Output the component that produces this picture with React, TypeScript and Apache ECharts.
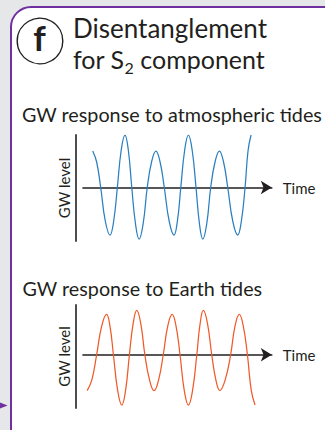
import React, { useEffect, useRef } from "react";
import * as echarts from "echarts";

// Upper panel: GW response to atmospheric tides (time in h, level in arbitrary units)
const atmTime = [
  3.7, 5.2, 6.75, 8.5, 10.3, 11.7, 13.1, 14.55, 16.0, 17.3, 18.6, 20.0, 21.4, 22.95, 24.5, 26.15, 27.8, 29.4, 31.0,
  32.85, 34.7, 36.0, 37.3, 38.75, 40.2, 41.65, 43.1, 44.4, 45.7, 47.2, 48.7, 50.35, 52.0, 53.6, 55.2, 57.1, 59.0,
  60.4, 61.8, 62.95, 64.1,
];
const atmLevel = [
  0.73, 0.51, 0, -0.67, -0.95, -0.67, 0, 0.74, 1.05, 0.74, 0, -0.72, -1.03, -0.72, 0, 0.51, 0.73, 0.51, 0,
  -0.67, -0.95, -0.67, 0, 0.74, 1.05, 0.74, 0, -0.72, -1.03, -0.72, 0, 0.51, 0.73, 0.51, 0, -0.67, -0.95,
  -0.67, 0, 0.74, 1.05,
];

// Lower panel: GW response to Earth tides
const earthTime = [
  1.6, 3.4, 5.2, 7.1, 9.0, 10.3, 11.6, 13.2, 14.8, 16.25, 17.7, 19.1, 20.5, 22.05, 23.6, 25.35, 27.1, 28.85, 30.6,
  32.3, 34.0, 35.5, 37.0, 38.6, 40.2, 41.8, 43.4, 44.65, 45.9, 47.5, 49.1, 50.65, 52.2, 54.25, 56.3, 57.95, 59.6,
  61.15, 62.7, 64.15, 65.6,
];
const earthLevel = [
  -0.72, -0.5, 0, 0.57, 0.81, 0.57, 0, -0.71, -1.01, -0.71, 0, 0.62, 0.89, 0.62, 0, -0.5, -0.72, -0.5, 0,
  0.57, 0.81, 0.57, 0, -0.71, -1.01, -0.71, 0, 0.62, 0.89, 0.62, 0, -0.5, -0.72, -0.5, 0, 0.57, 0.81,
  0.57, 0, -0.71, -1.01,
];

const panelTitle = "Disentanglement";
const subTitles = ["GW response to atmospheric tides", "GW response to Earth tides"];
const xName = "Time";
const yName = "GW level";

const FONT = "Lato";
const INK = "#231f20";
const PURPLE = "#7030a0";

export default function App() {
  const ref = useRef<HTMLDivElement>(null);
  useEffect(() => {
    const chart = echarts.init(ref.current!, null, { renderer: "svg" });
    const pairs = (t: number[], v: number[]) => t.map((x, i) => [x, v[i]]);
    const xAxisBase = (gridIndex: number) => ({
      type: "value",
      gridIndex,
      min: 0,
      max: 72,
      name: xName,
      nameLocation: "end",
      nameGap: 11,
      nameTextStyle: { fontFamily: FONT, fontSize: 15, color: INK, verticalAlign: "middle" },
      axisLine: {
        onZero: true,
        symbol: ["none", "arrow"],
        symbolSize: [10, 11],
        lineStyle: { color: INK, width: 1.6 },
      },
      axisTick: { show: false },
      axisLabel: { show: false },
      splitLine: { show: false },
    });
    const yAxisBase = (gridIndex: number, max: number) => ({
      type: "value",
      gridIndex,
      min: -1.07,
      max,
      offset: 7.3,
      name: yName,
      nameLocation: "middle",
      nameRotate: 90,
      nameGap: 4,
      nameTextStyle: { fontFamily: FONT, fontSize: 15, color: INK },
      axisLine: { show: true, onZero: false, lineStyle: { color: "#4d4d4f", width: 2 } },
      axisTick: { show: false },
      axisLabel: { show: false },
      splitLine: { show: false },
    });
    chart.setOption({
      animation: false,
      backgroundColor: "#e6e7e8",
      grid: [
        { left: 83, top: 135, width: 188.8, height: 106 },
        { left: 83, top: 305, width: 188.8, height: 103 },
      ],
      xAxis: [xAxisBase(0), xAxisBase(1)],
      yAxis: [yAxisBase(0, 1.05), yAxisBase(1, 1.0)],
      series: [
        {
          type: "line",
          xAxisIndex: 0,
          yAxisIndex: 0,
          data: pairs(atmTime, atmLevel),
          smooth: 0.45,
          showSymbol: false,
          lineStyle: { color: "#2a7fc1", width: 1.25 },
          z: 3,
        },
        {
          type: "line",
          xAxisIndex: 1,
          yAxisIndex: 1,
          data: pairs(earthTime, earthLevel),
          smooth: 0.45,
          showSymbol: false,
          lineStyle: { color: "#f05a28", width: 1.25 },
          z: 3,
        },
      ],
      graphic: [
        {
          type: "rect",
          z: -10,
          shape: { x: 11, y: 7, width: 400, height: 500, r: [20, 0, 0, 0] },
          style: { fill: "#ffffff", stroke: PURPLE, lineWidth: 2 },
        },
        {
          type: "polygon",
          z: -9,
          shape: { points: [[0, 402.6], [7.6, 405.6], [0, 408.6]] },
          style: { fill: PURPLE },
        },
        {
          type: "circle",
          shape: { cx: 40, cy: 41, r: 22.8 },
          style: { fill: "#ffffff", stroke: INK, lineWidth: 1.4 },
        },
        {
          type: "text",
          x: 39.5,
          y: 37.2,
          style: {
            text: "f",
            fontFamily: FONT,
            fontWeight: "bold",
            fontSize: 35,
            fill: INK,
            align: "center",
            verticalAlign: "middle",
          },
        },
        {
          type: "text",
          x: 73,
          y: 28,
          style: {
            text: panelTitle,
            fontFamily: FONT,
            fontSize: 26,
            fill: INK,
            align: "left",
            verticalAlign: "middle",
          },
        },
        {
          type: "text",
          x: 73,
          y: 58.6,
          style: {
            text: "{m|for S}{s|2}{m| component}",
            fill: INK,
            align: "left",
            verticalAlign: "middle",
            rich: {
              m: { fontFamily: FONT, fontSize: 25, lineHeight: 30, fill: INK, verticalAlign: "middle" },
              s: { fontFamily: FONT, fontSize: 16, lineHeight: 10, fill: INK, verticalAlign: "middle", padding: [18, 0, 0, 0] },
            },
          },
        },
        {
          type: "text",
          x: 22,
          y: 114.3,
          style: {
            text: subTitles[0],
            fontFamily: FONT,
            fontSize: 19.75,
            fill: INK,
            align: "left",
            verticalAlign: "middle",
          },
        },
        {
          type: "text",
          x: 22.5,
          y: 288.3,
          style: {
            text: subTitles[1],
            fontFamily: FONT,
            fontSize: 19.75,
            fill: INK,
            align: "left",
            verticalAlign: "middle",
          },
        },
      ],
    });
    return () => chart.dispose();
  }, []);
  return <div ref={ref} style={{ position: "absolute", left: 0, top: 0, width: 325, height: 430 }} />;
}
